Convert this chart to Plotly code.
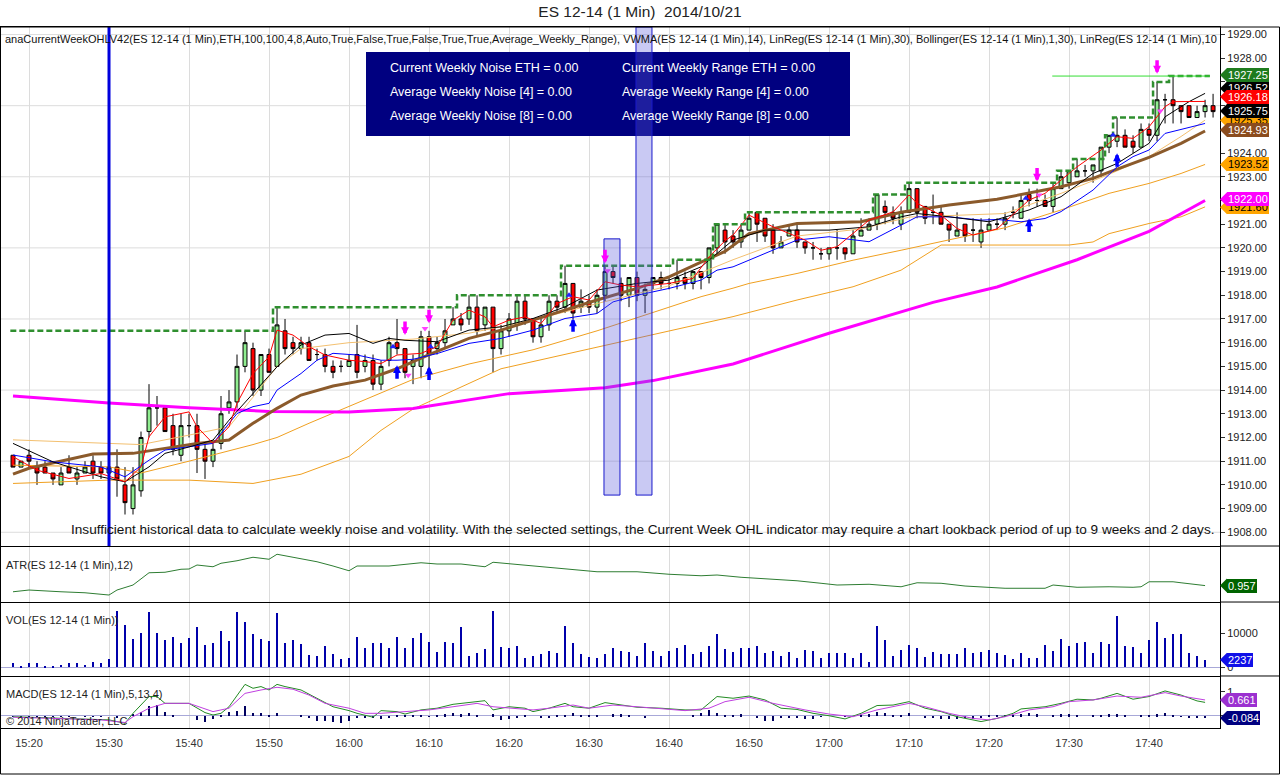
import pandas as pd
import plotly.graph_objects as go
from plotly.subplots import make_subplots

DAY = '2014-10-21 '
FONT = 'Liberation Sans, Arial, sans-serif'

# ---- 1 minute bars, 15:18 .. 17:48 ----
opens = [1911.25, 1910.75, 1911.25, 1910.75, 1910.75, 1910.5, 1910.0, 1910.75, 1910.25, 1910.5, 1911.0, 1910.75, 1910.5,
         1910.75, 1910.0, 1909.0, 1909.75, 1912.25, 1913.25, 1913.25, 1912.5, 1911.25, 1912.5,
         1912.5, 1911.5, 1911.0, 1911.75, 1913.25, 1913.5, 1915.0, 1915.75, 1914.0, 1915.5,
         1915.0, 1916.5, 1916.0, 1915.75, 1916.0, 1915.5, 1915.5, 1915.0, 1915.0, 1915.0,
         1915.5, 1915.0, 1915.25, 1914.25, 1915.25, 1916.0, 1915.75, 1915.0, 1915.0, 1916.25,
         1915.75, 1916.0, 1916.75, 1917.0, 1917.0, 1917.5, 1916.75, 1917.5, 1915.75, 1916.5,
         1916.75, 1917.75, 1917.0, 1916.25, 1916.75, 1917.75, 1917.5, 1918.5, 1917.5, 1917.75,
         1917.5, 1918.0, 1919.0, 1918.5, 1918.0, 1918.75, 1918.0, 1918.5, 1918.75, 1918.5,
         1918.5, 1918.75, 1918.5, 1919.0, 1918.75, 1920.0, 1920.75, 1920.5, 1920.25, 1920.75,
         1921.5, 1921.25, 1920.75, 1920.0, 1920.5, 1920.75, 1920.25, 1920.0, 1919.75, 1919.75,
         1920.0, 1920.0, 1919.75, 1920.5, 1920.75, 1921.0, 1921.75, 1921.5, 1921.0, 1921.5,
         1922.5, 1921.75, 1921.5, 1921.5, 1921.0, 1920.5, 1921.0, 1920.75, 1920.25, 1920.75,
         1921.0, 1921.0, 1921.5, 1921.25, 1922.25, 1922.0, 1922.0, 1921.75, 1922.5, 1922.75,
         1923.0, 1923.25, 1923.25, 1923.25, 1924.25, 1924.5, 1924.75, 1924.5, 1924.25, 1925.0,
         1924.75, 1926.25, 1926.25, 1926.0, 1926.0, 1925.5, 1925.75, 1926.0]
highs = [1911.25, 1911.0, 1911.5, 1911.0, 1911.0, 1910.5, 1910.75, 1911.25, 1910.75, 1911.0, 1911.25, 1911.0, 1910.75,
         1911.5, 1910.75, 1910.75, 1912.25, 1914.25, 1913.75, 1913.25, 1913.0, 1913.0, 1913.0,
         1913.0, 1911.75, 1911.75, 1913.75, 1914.0, 1915.5, 1916.5, 1916.0, 1915.5, 1915.75,
         1917.5, 1917.0, 1916.25, 1916.25, 1916.25, 1915.75, 1915.75, 1915.25, 1915.25, 1915.5,
         1916.75, 1915.5, 1915.5, 1915.25, 1916.25, 1917.0, 1915.75, 1915.5, 1916.5, 1916.5,
         1916.25, 1917.0, 1917.5, 1917.25, 1918.0, 1918.0, 1917.5, 1917.5, 1916.75, 1917.25,
         1918.0, 1918.0, 1917.0, 1917.0, 1918.0, 1918.0, 1919.25, 1918.5, 1918.25, 1918.0,
         1918.25, 1919.25, 1919.25, 1918.75, 1918.75, 1919.0, 1918.5, 1918.75, 1919.0, 1918.75,
         1919.5, 1919.0, 1919.0, 1919.0, 1920.0, 1921.0, 1921.0, 1920.75, 1921.0, 1921.5,
         1921.5, 1921.25, 1921.0, 1920.5, 1921.0, 1921.0, 1920.25, 1920.25, 1920.0, 1920.0,
         1920.75, 1920.0, 1920.75, 1921.25, 1921.25, 1922.25, 1922.0, 1921.75, 1921.75, 1922.75,
         1922.5, 1921.75, 1922.25, 1921.75, 1921.0, 1921.5, 1921.0, 1921.25, 1921.25, 1921.25,
         1921.25, 1921.5, 1921.75, 1922.25, 1922.5, 1922.5, 1922.25, 1922.75, 1923.25, 1923.25,
         1923.75, 1923.5, 1923.5, 1924.25, 1924.75, 1925.5, 1925.0, 1924.75, 1925.25, 1925.25,
         1927.0, 1926.5, 1927.25, 1926.0, 1926.0, 1926.0, 1926.25, 1926.5]
lows = [1910.75, 1910.75, 1910.75, 1910.0, 1910.5, 1910.0, 1910.0, 1910.5, 1910.0, 1910.5, 1910.25, 1910.25, 1910.25,
        1909.5, 1908.75, 1908.75, 1909.5, 1912.0, 1912.5, 1912.25, 1911.25, 1911.0, 1912.0,
        1910.5, 1910.25, 1910.75, 1911.5, 1913.0, 1913.25, 1914.75, 1913.75, 1913.75, 1914.75,
        1915.0, 1915.5, 1915.5, 1915.5, 1915.25, 1915.25, 1914.75, 1914.5, 1914.75, 1915.0,
        1914.5, 1914.75, 1914.0, 1914.0, 1915.0, 1915.5, 1914.5, 1914.25, 1914.5, 1914.75,
        1915.5, 1915.75, 1916.75, 1916.5, 1916.75, 1916.25, 1916.5, 1914.75, 1915.5, 1916.25,
        1916.5, 1916.75, 1916.0, 1916.0, 1916.5, 1917.25, 1917.25, 1917.0, 1917.25, 1917.25,
        1917.25, 1917.75, 1918.5, 1917.75, 1917.5, 1917.75, 1917.25, 1918.25, 1918.25, 1918.25,
        1918.25, 1918.25, 1918.25, 1918.25, 1918.5, 1919.75, 1919.75, 1920.0, 1920.0, 1920.75,
        1920.25, 1920.25, 1919.75, 1920.0, 1920.5, 1920.0, 1919.75, 1919.5, 1919.5, 1919.5,
        1919.5, 1919.5, 1919.75, 1920.5, 1920.75, 1920.75, 1921.0, 1921.0, 1920.75, 1921.5,
        1921.25, 1921.0, 1921.0, 1921.0, 1920.25, 1920.5, 1920.25, 1920.25, 1920.0, 1920.75,
        1920.75, 1920.75, 1921.25, 1921.25, 1921.75, 1921.75, 1921.75, 1921.5, 1922.5, 1922.5,
        1923.0, 1923.0, 1922.75, 1923.0, 1924.0, 1924.25, 1924.25, 1924.0, 1924.25, 1924.5,
        1924.5, 1925.25, 1925.25, 1925.25, 1925.5, 1925.5, 1925.5, 1925.5]
closes = [1910.75, 1911.0, 1911.0, 1910.5, 1910.5, 1910.25, 1910.5, 1910.5, 1910.5, 1910.75, 1910.5, 1910.5, 1910.75,
          1910.25, 1909.25, 1910.0, 1912.0, 1913.25, 1913.25, 1912.25, 1911.5, 1912.5, 1912.5,
          1911.5, 1911.0, 1911.5, 1913.0, 1913.5, 1915.0, 1916.0, 1914.0, 1915.5, 1914.75,
          1916.75, 1915.75, 1915.75, 1916.0, 1915.25, 1915.5, 1915.0, 1914.75, 1915.0, 1915.25,
          1914.75, 1915.25, 1914.25, 1915.0, 1916.0, 1915.75, 1914.75, 1915.25, 1916.25, 1915.5,
          1916.0, 1916.5, 1917.0, 1916.75, 1917.5, 1916.5, 1917.5, 1915.75, 1916.5, 1917.0,
          1917.75, 1917.0, 1916.25, 1916.75, 1917.75, 1917.5, 1918.5, 1917.25, 1917.75, 1917.5,
          1918.0, 1919.0, 1918.75, 1918.0, 1918.75, 1918.0, 1918.25, 1918.75, 1918.5, 1918.5,
          1918.75, 1918.5, 1919.0, 1918.75, 1920.0, 1921.0, 1920.25, 1920.25, 1920.75, 1921.25,
          1921.0, 1920.5, 1920.0, 1920.25, 1920.75, 1920.25, 1920.0, 1920.0, 1919.75, 1920.0,
          1920.0, 1919.75, 1920.5, 1920.75, 1921.0, 1922.25, 1921.5, 1921.25, 1921.5, 1922.5,
          1921.5, 1921.25, 1921.5, 1921.0, 1920.75, 1920.75, 1920.5, 1920.75, 1920.75, 1921.0,
          1921.0, 1921.25, 1921.5, 1922.0, 1922.0, 1922.0, 1921.75, 1922.5, 1923.0, 1923.25,
          1923.25, 1923.25, 1923.5, 1924.25, 1924.75, 1924.75, 1924.25, 1924.25, 1925.0, 1924.75,
          1926.25, 1926.25, 1926.0, 1925.75, 1925.5, 1925.75, 1926.0, 1925.75]

volumes = [1180, 400, 1180, 1180, 400, 500, 600, 1180, 1180, 700, 1500, 1180, 2450,
           16560, 12450, 8330, 10000, 16270, 10000, 8040, 8820, 7060, 8530,
           11760, 6570, 7060, 10680, 7740, 16270, 13330, 9700, 8330, 7740,
           15970, 7060, 8040, 6860, 3630, 3330, 6270, 3920, 2550, 2750,
           8920, 5690, 7060, 7060, 5690, 8920, 5690, 8630, 10100, 7450,
           4510, 7450, 7160, 11860, 3330, 4120, 5390, 16560, 5980, 5690,
           6270, 2750, 3240, 3920, 4800, 4210, 12160, 7060, 3920, 3040,
           2750, 3920, 5690, 4800, 4510, 3330, 7160, 4800, 3330, 4800,
           5690, 6570, 3920, 4510, 6270, 9810, 5390, 4510, 5690, 5690,
           6270, 4210, 4800, 3330, 4510, 2750, 5100, 4800, 2750, 4210,
           4210, 4210, 2750, 4210, 1570, 12160, 8040, 3330, 5100, 6570,
           5690, 3040, 4510, 3920, 3920, 3920, 5690, 4210, 4510, 5100,
           4210, 3630, 2450, 4210, 2750, 2750, 6570, 4800, 8330, 6270,
           7160, 7450, 4210, 7450, 6860, 15050, 6270, 5980, 4210, 8040,
           13330, 8630, 9810, 9810, 4210, 3330, 2237]

macd_diff = [-0.03, -0.03, -0.05, -0.03, -0.05, -0.03, -0.03, -0.03, 0.0, -0.03, -0.03, -0.03, 0.0,
             -0.1, 0.0, 0.1, 0.18, 0.41, 0.45, 0.18, 0.03, 0.0, 0.0,
             -0.16, -0.23, -0.14, 0.04, 0.18, 0.22, 0.41, 0.14, 0.14, 0.03,
             0.14, 0.0, 0.0, 0.03, -0.05, -0.19, -0.19, -0.23, -0.27, -0.19,
             -0.1, -0.1, -0.1, -0.14, -0.05, 0.04, 0.03, 0.03, 0.04, -0.03,
             0.03, 0.08, 0.11, 0.08, 0.11, 0.04, 0.0, 0.08, -0.16, -0.14,
             -0.05, 0.04, 0.0, -0.1, -0.05, 0.04, 0.04, 0.11, 0.03, 0.03,
             0.03, 0.0, 0.08, 0.08, 0.03, 0.0, -0.1, 0.0, 0.0, 0.0,
             0.0, 0.0, 0.03, 0.14, 0.25, 0.14, 0.04, 0.04, 0.08, 0.0,
             -0.1, -0.19, -0.19, -0.1, -0.05, -0.1, -0.14, -0.14, -0.03, 0.0,
             0.0, -0.03, 0.0, 0.04, 0.08, 0.18, 0.14, 0.04, 0.04, 0.11,
             0.0, -0.05, -0.05, -0.14, -0.14, -0.14, -0.1, -0.14, -0.05, 0.03,
             0.03, 0.03, 0.04, 0.08, 0.14, 0.08, 0.0, 0.04, 0.08, 0.08,
             0.04, 0.0, 0.04, 0.04, 0.08, 0.08, 0.03, 0.0, 0.03, 0.03,
             0.08, 0.14, 0.04, -0.03, -0.1, -0.1, -0.08]

# ---- indicator lines at turning points ----
magenta_t = ['15:18', '15:30', '15:40', '15:50', '16:00', '16:08', '16:20', '16:32', '16:38', '16:48',
             '17:00', '17:13', '17:21', '17:31', '17:40', '17:47']
magenta_v = [1913.75, 1913.45, 1913.25, 1913.10, 1913.08, 1913.22, 1913.85, 1914.10, 1914.40, 1915.10,
             1916.40, 1917.70, 1918.35, 1919.50, 1920.70, 1922.00]

brown_t = ['15:18', '15:20', '15:28', '15:33', '15:37', '15:41', '15:45', '15:48', '15:51', '15:54',
           '15:58', '16:02', '16:06', '16:10', '16:15', '16:19', '16:23', '16:27', '16:31', '16:36',
           '16:40', '16:44', '16:47', '16:50', '16:56', '17:04', '17:09', '17:15', '17:21', '17:29',
           '17:33', '17:35', '17:40', '17:44', '17:47']
brown_v = [1910.45, 1910.70, 1911.30, 1911.33, 1911.54, 1911.75, 1911.89, 1912.60, 1913.23, 1913.79,
           1914.17, 1914.42, 1914.90, 1915.50, 1916.18, 1916.53, 1916.95, 1917.37, 1917.80, 1918.29,
           1918.78, 1919.40, 1919.85, 1920.60, 1921.03, 1921.10, 1921.50, 1921.81, 1922.05, 1922.58,
           1922.93, 1923.20, 1923.82, 1924.41, 1924.93]

black_t = ['15:18', '15:23', '15:29', '15:32', '15:35', '15:37', '15:40', '15:43', '15:45', '15:48',
           '15:51', '15:54', '15:57', '16:00', '16:03', '16:05', '16:07', '16:11', '16:15', '16:19',
           '16:23', '16:27', '16:31', '16:36', '16:40', '16:44', '16:48', '16:52', '17:00', '17:05',
           '17:09', '17:11', '17:15', '17:20', '17:25', '17:29', '17:33', '17:36', '17:40', '17:42',
           '17:45', '17:47']
black_v = [1911.75, 1910.97, 1910.34, 1910.13, 1910.76, 1911.33, 1911.60, 1911.89, 1912.73, 1913.86,
           1914.98, 1915.90, 1916.32, 1916.39, 1915.97, 1916.18, 1916.10, 1916.04, 1916.53, 1916.67,
           1917.02, 1917.51, 1918.22, 1918.50, 1918.64, 1919.20, 1920.33, 1920.75, 1920.75, 1920.89,
           1921.31, 1921.45, 1921.31, 1921.10, 1921.60, 1922.16, 1923.14, 1923.56, 1924.41, 1925.53,
           1926.17, 1926.52]

red_t = ['15:18', '15:21', '15:25', '15:29', '15:32', '15:34', '15:35', '15:37', '15:40', '15:41',
         '15:43', '15:45', '15:46', '15:48', '15:50', '15:51', '15:53', '15:55', '15:57', '16:00',
         '16:02', '16:04', '16:06', '16:09', '16:11', '16:13', '16:15', '16:17', '16:18', '16:20',
         '16:22', '16:24', '16:26', '16:28', '16:30', '16:32', '16:34', '16:36', '16:40', '16:43',
         '16:45', '16:47', '16:48', '16:50', '16:53', '16:55', '16:57', '16:59', '17:01', '17:03',
         '17:05', '17:08', '17:10', '17:11', '17:14', '17:16', '17:18', '17:21', '17:25', '17:27',
         '17:29', '17:31', '17:34', '17:36', '17:38', '17:40', '17:42', '17:43', '17:47']
red_v = [1911.19, 1910.62, 1910.27, 1910.48, 1910.13, 1910.76, 1912.03, 1912.87, 1913.08, 1912.45,
         1911.75, 1912.45, 1913.44, 1914.70, 1915.40, 1916.53, 1916.32, 1915.83, 1915.48, 1915.26,
         1915.20, 1915.12, 1915.48, 1915.55, 1915.83, 1916.95, 1917.37, 1917.09, 1916.67, 1916.95,
         1917.09, 1916.81, 1917.65, 1917.94, 1917.80, 1918.57, 1918.43, 1918.36, 1918.50, 1918.71,
         1919.62, 1920.30, 1920.54, 1921.38, 1920.89, 1920.61, 1920.33, 1919.90, 1920.05, 1920.61,
         1921.17, 1921.52, 1922.23, 1921.88, 1921.38, 1920.82, 1920.54, 1920.80, 1922.02, 1922.30,
         1922.86, 1923.42, 1924.13, 1924.69, 1924.62, 1925.11, 1925.96, 1926.17, 1926.18]

blue_t = ['15:18', '15:23', '15:29', '15:32', '15:35', '15:37', '15:40', '15:43', '15:46', '15:48',
          '15:50', '15:51', '15:54', '15:56', '15:58', '16:01', '16:04', '16:06', '16:08', '16:11',
          '16:15', '16:19', '16:23', '16:27', '16:31', '16:33', '16:36', '16:40', '16:44', '16:46',
          '16:48', '16:50', '16:54', '16:56', '17:00', '17:05', '17:07', '17:11', '17:15', '17:19',
          '17:21', '17:24', '17:27', '17:29', '17:33', '17:36', '17:38', '17:40', '17:42', '17:47']
blue_v = [1911.26, 1910.97, 1910.76, 1910.34, 1911.04, 1911.47, 1911.61, 1911.75, 1913.01, 1913.30,
          1913.44, 1914.00, 1914.70, 1915.26, 1915.55, 1915.48, 1915.26, 1915.26, 1915.30, 1915.54,
          1915.97, 1916.18, 1916.53, 1917.02, 1917.23, 1917.72, 1918.00, 1918.29, 1918.64, 1919.06,
          1919.20, 1919.48, 1920.05, 1920.33, 1920.47, 1920.26, 1920.61, 1921.31, 1921.31, 1921.17,
          1921.20, 1921.10, 1921.24, 1921.53, 1922.44, 1923.42, 1923.85, 1924.13, 1924.83, 1925.25]

bb_upper_t = ['15:18', '15:30', '15:34', '15:40', '15:45', '15:48', '15:51', '15:54', '16:00', '16:08',
              '16:15', '16:23', '16:31', '16:40', '16:48', '16:56', '17:04', '17:10', '17:16', '17:22',
              '17:29', '17:35', '17:40', '17:44', '17:47']
bb_upper_v = [1911.90, 1911.75, 1911.70, 1912.10, 1912.45, 1913.70, 1915.00, 1915.75, 1916.00, 1916.15,
              1916.40, 1916.95, 1917.65, 1918.40, 1919.50, 1920.50, 1920.80, 1921.30, 1921.38, 1921.45,
              1922.30, 1923.10, 1923.85, 1924.70, 1925.39]
bb_mid_t = ['15:18', '15:30', '15:34', '15:40', '15:48', '15:51', '15:55', '16:00', '16:08', '16:15',
            '16:23', '16:31', '16:40', '16:44', '16:48', '16:50', '16:56', '17:03', '17:09', '17:15',
            '17:22', '17:29', '17:35', '17:40', '17:44', '17:47']
bb_mid_v = [1910.83, 1910.76, 1910.50, 1911.00, 1911.70, 1912.00, 1912.60, 1913.30, 1914.45, 1915.10,
            1915.70, 1916.50, 1917.50, 1917.94, 1918.30, 1918.50, 1918.92, 1919.48, 1919.90, 1920.33,
            1920.85, 1921.60, 1922.30, 1922.72, 1923.14, 1923.52]
bb_lower_t = ['15:18', '15:30', '15:40', '15:48', '15:54', '16:00', '16:04', '16:08', '16:19', '16:31',
              '16:40', '16:48', '16:56', '17:03', '17:09', '17:14', '17:22', '17:30', '17:33', '17:35',
              '17:40', '17:44', '17:47']
bb_lower_v = [1910.06, 1910.20, 1910.20, 1910.06, 1910.45, 1911.20, 1912.30, 1913.20, 1914.90, 1915.80,
              1916.50, 1917.10, 1917.80, 1918.36, 1919.06, 1920.12, 1920.12, 1920.12, 1920.25, 1920.60,
              1921.03, 1921.31, 1921.73]

# weekly-high step line (dashed) and the high marker line
step_t = ['15:17:40', '15:50:30', '16:13:30', '16:26:30', '16:40:30', '16:45:30', '16:49:30', '17:05:30',
          '17:09:30', '17:28:30', '17:30:30', '17:34:30', '17:35:30', '17:40:30', '17:42:30', '17:47:36']
step_v = [1916.5, 1917.5, 1918.0, 1919.25, 1919.5, 1921.0, 1921.5, 1922.25,
          1922.75, 1923.25, 1923.75, 1924.75, 1925.5, 1927.0, 1927.25, 1927.25]
high_line_t = ['17:27:54', '17:47:36']
high_line_v = [1927.25, 1927.25]

# signal arrows
down_arrow_t = ['16:07', '16:10', '16:32', '17:26', '17:41']
down_arrow_v = [1916.32, 1916.82, 1919.35, 1922.80, 1927.35]
up_arrow_t = ['16:06', '16:10', '16:28', '17:25', '17:36']
up_arrow_v = [1915.05, 1915.00, 1917.03, 1921.24, 1923.99]
pink_mark_t = ['16:07:24', '16:09:30', '16:32:18', '17:26:15', '17:41:24']
pink_mark_v = [1914.63, 1916.60, 1919.03, 1922.23, 1925.78]
blue_mark_t = ['16:05:30', '16:10:12', '16:27:30', '17:24:36', '17:35:30']
blue_mark_v = [1915.83, 1915.83, 1918.00, 1922.09, 1924.76]

# highlighted regions
zone_t0 = ['16:31:52', '16:35:52']
zone_t1 = ['16:33:52', '16:37:52']
zone_lo = [1909.57, 1909.57]
zone_hi = [1920.38, 1929.32]

# ATR / MACD lines
atr_t = ['15:18', '15:20', '15:24', '15:27', '15:30', '15:31', '15:33', '15:35', '15:37', '15:39',
         '15:40', '15:41', '15:43', '15:44', '15:46', '15:48', '15:50', '15:51', '15:53', '15:56',
         '15:58', '16:00', '16:01', '16:05', '16:09', '16:11', '16:14', '16:17', '16:18', '16:22',
         '16:24', '16:28', '16:31', '16:36', '16:40', '16:44', '16:46', '16:49', '16:54', '16:56',
         '16:59', '17:01', '17:05', '17:09', '17:11', '17:14', '17:17', '17:22', '17:27', '17:28',
         '17:31', '17:35', '17:38', '17:39', '17:40', '17:43', '17:44', '17:47']
atr_v = [0.71, 0.78, 0.71, 0.67, 0.58, 0.78, 0.98, 1.47, 1.49, 1.61,
         1.62, 1.78, 1.71, 1.85, 1.95, 2.09, 2.01, 2.21, 2.09, 1.91,
         1.74, 1.55, 1.74, 1.74, 1.87, 1.82, 1.82, 1.71, 1.89, 1.78,
         1.71, 1.61, 1.51, 1.51, 1.41, 1.35, 1.38, 1.29, 1.18, 1.15,
         1.05, 0.98, 1.01, 0.91, 1.07, 1.05, 0.94, 0.85, 0.85, 0.98,
         0.89, 0.91, 0.89, 0.91, 1.11, 1.11, 1.07, 0.957]

macd_t = ['15:18', '15:22', '15:27', '15:30', '15:32', '15:33', '15:35', '15:36', '15:37', '15:40',
          '15:42', '15:43', '15:44', '15:45', '15:47', '15:48', '15:49', '15:50', '15:51', '15:52',
          '15:54', '15:56', '15:58', '16:00', '16:01', '16:03', '16:04', '16:06', '16:07', '16:09',
          '16:11', '16:13', '16:15', '16:17', '16:18', '16:20', '16:22', '16:23', '16:25', '16:27',
          '16:28', '16:30', '16:32', '16:34', '16:36', '16:39', '16:42', '16:44', '16:46', '16:48',
          '16:50', '16:52', '16:54', '16:56', '16:58', '17:00', '17:02', '17:04', '17:06', '17:08',
          '17:10', '17:12', '17:14', '17:16', '17:18', '17:19', '17:21', '17:23', '17:24', '17:27',
          '17:29', '17:31', '17:33', '17:34', '17:36', '17:38', '17:40', '17:42', '17:44', '17:46', '17:47']
macd_v = [-0.03, -0.07, -0.14, -0.16, -0.30, 0.11, 0.80, 0.80, 0.52, 0.52,
          0.14, 0.04, 0.11, 0.38, 1.30, 1.14, 1.21, 1.07, 1.30, 1.21,
          1.07, 0.73, 0.38, 0.22, 0.11, -0.05, 0.22, 0.18, 0.08, 0.25,
          0.32, 0.48, 0.55, 0.63, 0.25, 0.38, 0.32, 0.18, 0.32, 0.52,
          0.38, 0.32, 0.55, 0.45, 0.36, 0.32, 0.25, 0.25, 0.80, 0.73,
          0.82, 0.66, 0.32, 0.27, 0.11, 0.01, -0.12, 0.11, 0.43, 0.45,
          0.59, 0.32, 0.18, -0.03, -0.16, -0.23, -0.10, 0.11, 0.29, 0.38,
          0.52, 0.69, 0.66, 0.73, 0.93, 0.69, 0.80, 1.03, 0.86, 0.62, 0.56]
avg_t = ['15:18', '15:29', '15:32', '15:33', '15:35', '15:37', '15:40', '15:43', '15:45', '15:47',
         '15:49', '15:51', '15:53', '15:55', '15:57', '16:00', '16:02', '16:04', '16:07', '16:10',
         '16:13', '16:16', '16:18', '16:20', '16:23', '16:25', '16:28', '16:30', '16:33', '16:36',
         '16:42', '16:45', '16:47', '16:50', '16:53', '16:57', '17:00', '17:03', '17:06', '17:10',
         '17:12', '17:15', '17:18', '17:20', '17:22', '17:25', '17:28', '17:30', '17:33', '17:36',
         '17:39', '17:42', '17:44', '17:47']
avg_v = [-0.05, -0.16, -0.27, -0.03, 0.32, 0.52, 0.52, 0.18, 0.32, 0.93,
         1.07, 1.18, 1.10, 0.86, 0.52, 0.32, 0.11, 0.11, 0.18, 0.25,
         0.38, 0.52, 0.38, 0.32, 0.25, 0.32, 0.45, 0.32, 0.45, 0.38,
         0.22, 0.32, 0.59, 0.77, 0.52, 0.25, 0.08, -0.03, 0.25, 0.52,
         0.38, 0.11, -0.10, -0.16, -0.03, 0.25, 0.38, 0.59, 0.66, 0.82,
         0.77, 0.96, 0.82, 0.66]

# right-hand value tags: text, displayed level, background, text colour
main_tags = [('1926.52', 1926.73, '#000000', 'white'), ('1926.18', 1926.38, '#ff0000', 'white'),
             ('1925.35', 1925.39, '#ffa500', 'black'), ('1925.75', 1925.78, '#000000', 'white'),
             ('1924.93', 1924.97, '#8b4c1e', 'white'), ('1923.52', 1923.52, '#ffa500', 'black'),
             ('1921.60', 1921.71, '#ffa500', 'black'), ('1922.00', 1922.05, '#ff00ff', 'white'),
             ('1927.25', 1927.29, '#1e7b1e', 'white')]
atr_tag = ('0.957', 0.957, '#006400', 'white')
vol_tag = ('2237', 2237, '#1010e8', 'white')
macd_tags = [('0.661', 0.661, '#9b30d0', 'white'), ('-0.084', -0.084, '#000080', 'white')]

grid_levels = [1908, 1911, 1914, 1917, 1920, 1923, 1926, 1929]

TOP_TEXT = ('anaCurrentWeekOHLV42(ES 12-14 (1 Min),ETH,100,100,4,8,Auto,True,False,True,False,True,True,'
            'Average_Weekly_Range), VWMA(ES 12-14 (1 Min),14), LinReg(ES 12-14 (1 Min),30), '
            'Bollinger(ES 12-14 (1 Min),1,30), LinReg(ES 12-14 (1 Min),10')
INFO_LEFT = ['Current Weekly Noise ETH = 0.00', 'Average Weekly Noise [4] = 0.00', 'Average Weekly Noise [8] = 0.00']
INFO_RIGHT = ['Current Weekly Range ETH = 0.00', 'Average Weekly Range [4] = 0.00', 'Average Weekly Range [8] = 0.00']
NOTE = ('Insufficient historical data to calculate weekly noise and volatility. With the selected settings, '
        'the Current Week OHL indicator may require a chart lookback period of up to 9 weeks and 2 days.')


def ts(hm):
    return [pd.Timestamp(DAY + s) for s in hm]


bar_times = pd.date_range(DAY + '15:18', periods=len(opens), freq='min')

# layout geometry (pixels)
W, H = 1280, 775
PW = 1219          # plot width
Y_MAIN = [1907.42, 1929.32]
Y_ATR = [0.30, 2.50]
Y_VOL = [-2560, 18900]
Y_MACD = [-0.494, 1.605]
dom_main = [0.2596, 1.0]
dom_atr = [0.1797, 0.2582]
dom_vol = [0.0742, 0.1783]
dom_macd = [0.0, 0.0728]
px_unit = {'y': 21.9 / 519, 'y2': 2.2 / 55, 'y3': 21460 / 73, 'y4': 2.099 / 51}

fig = make_subplots(rows=4, cols=1, shared_xaxes=True, vertical_spacing=0)

# --- price panel ---
fig.add_trace(go.Candlestick(
    x=bar_times, open=opens, high=highs, low=lows, close=closes,
    increasing=dict(fillcolor='#90ee90', line=dict(color='black', width=1)),
    decreasing=dict(fillcolor='#ff0000', line=dict(color='black', width=1)),
    whiskerwidth=0, showlegend=False), row=1, col=1)

line_specs = [
    (bb_lower_t, bb_lower_v, '#f0a020', 1),
    (bb_mid_t, bb_mid_v, '#f0a020', 1),
    (bb_upper_t, bb_upper_v, '#f3c070', 1),
    (magenta_t, magenta_v, '#ff00ff', 3),
    (brown_t, brown_v, '#8b5a2b', 3),
    (blue_t, blue_v, '#0000ff', 1),
    (black_t, black_v, '#000000', 1),
    (red_t, red_v, '#ff0000', 1),
]
for t, v, c, w in line_specs:
    fig.add_trace(go.Scatter(x=ts(t), y=v, mode='lines', line=dict(color=c, width=w),
                             showlegend=False), row=1, col=1)

fig.add_trace(go.Scatter(x=ts(step_t), y=step_v, mode='lines', line_shape='hv',
                         line=dict(color='#2f8f2f', width=2.5, dash='6px,3px'), showlegend=False), row=1, col=1)
fig.add_trace(go.Scatter(x=ts(high_line_t), y=high_line_v, mode='lines',
                         line=dict(color='#33dd33', width=1), showlegend=False), row=1, col=1)
fig.add_trace(go.Scatter(x=ts(pink_mark_t), y=pink_mark_v, mode='markers',
                         marker=dict(symbol='triangle-down', size=6, color='#ff44ff'), showlegend=False), row=1, col=1)
fig.add_trace(go.Scatter(x=ts(blue_mark_t), y=blue_mark_v, mode='markers',
                         marker=dict(symbol='triangle-up', size=6, color='#2222ff'), showlegend=False), row=1, col=1)

# --- ATR ---
fig.add_trace(go.Scatter(x=ts(atr_t), y=atr_v, mode='lines', line=dict(color='#2e7d32', width=1),
                         showlegend=False), row=2, col=1)
# --- volume ---
fig.add_trace(go.Bar(x=bar_times[:len(volumes)], y=volumes, marker=dict(color='#0000aa', line=dict(width=0)),
                     width=20000, showlegend=False), row=3, col=1)
# --- MACD ---
fig.add_trace(go.Bar(x=bar_times[:len(macd_diff)], y=macd_diff, marker=dict(color='#000060', line=dict(width=0)),
                     width=20000, showlegend=False), row=4, col=1)
fig.add_trace(go.Scatter(x=ts(macd_t), y=macd_v, mode='lines', line=dict(color='#228b22', width=1),
                         showlegend=False), row=4, col=1)
fig.add_trace(go.Scatter(x=ts(avg_t), y=avg_v, mode='lines', line=dict(color='#c040e0', width=1),
                         showlegend=False), row=4, col=1)

# --- axes ---
x_range = [DAY + '15:16:30', DAY + '17:48:52']
fig.update_xaxes(type='date', range=x_range, dtick=600000, tick0=DAY + '15:20', tickformat='%H:%M',
                 showgrid=True, gridcolor='#dcdcdc', gridwidth=1, zeroline=False,
                 showline=True, linecolor='black', linewidth=1, mirror=True,
                 rangeslider=dict(visible=False), ticks='outside', ticklen=5, tickcolor='rgba(0,0,0,0)',
                 tickfont=dict(size=11, color='#333'))
axis_common = dict(side='right', showline=True, linecolor='black', linewidth=1, mirror=True,
                   showgrid=False, ticks='outside', ticklen=4, tickcolor='#333',
                   tickfont=dict(size=11, color='#222'))
fig.update_layout(
    yaxis=dict(domain=dom_main, range=Y_MAIN, dtick=1, tickformat='.2f', zeroline=False, **axis_common),
    yaxis2=dict(domain=dom_atr, range=Y_ATR, showticklabels=False, zeroline=False,
                **{k: v for k, v in axis_common.items() if k not in ('ticks',)}),
    yaxis3=dict(domain=dom_vol, range=Y_VOL, tickvals=[0, 10000], tickformat='d', zeroline=True,
                zerolinecolor='#a8a8d8', zerolinewidth=1, **axis_common),
    yaxis4=dict(domain=dom_macd, range=Y_MACD, tickvals=[0, 1], zeroline=True, zerolinecolor='#a8a8d8',
                zerolinewidth=1, **axis_common),
)

# --- shapes ---
for lv in grid_levels:
    fig.add_shape(type='line', xref='x domain', x0=0, x1=1, yref='y', y0=lv, y1=lv,
                  line=dict(color='#dcdcdc', width=1), layer='below')

fig.add_shape(type='line', xref='x', x0=DAY + '15:30', x1=DAY + '15:30', yref='y domain', y0=0, y1=1,
              line=dict(color='#0000dd', width=3), layer='above')

# info panel
fig.add_shape(type='rect', xref='paper', yref='paper', x0=(366 - 1) / PW, x1=(850 - 1) / PW,
              y0=(728 - 136) / 701, y1=(728 - 52) / 701, fillcolor='#000080', line=dict(width=0), layer='above')

for a, b, lo, hi in zip(zone_t0, zone_t1, zone_lo, zone_hi):
    fig.add_shape(type='rect', xref='x', yref='y', x0=DAY + a, x1=DAY + b, y0=lo, y1=hi,
                  fillcolor='rgba(90,90,220,0.33)', line=dict(color='#1a1acc', width=1), layer='above')

# separators running out into the price-scale column
for yv in (dom_main[0], dom_atr[0], dom_vol[0]):
    fig.add_shape(type='line', xref='paper', yref='paper', x0=1, x1=1279 / PW, y0=yv, y1=yv,
                  line=dict(color='black', width=1), layer='above')
fig.add_shape(type='rect', xref='paper', yref='paper', x0=-0.5 / PW, x1=1278.5 / PW,
              y0=(728 - 774) / 701, y1=1, line=dict(color='black', width=1), layer='above')


def add_tag(text, yv, bg, fg, yref):
    h = 7 * px_unit[yref]
    fig.add_shape(type='path', xref='paper', yref=yref,
                  path=f'M 1,{yv} L {1 + 7 / PW},{yv + h} L {1 + 7 / PW},{yv - h} Z',
                  fillcolor=bg, line=dict(width=0), layer='above')
    fig.add_annotation(x=1, xref='paper', xanchor='left', xshift=7, y=yv, yref=yref, yanchor='middle',
                       text=text, showarrow=False, bgcolor=bg, bordercolor=bg, borderwidth=1, borderpad=0,
                       font=dict(color=fg, size=11, family=FONT))


# arrows
for t, v in zip(down_arrow_t, down_arrow_v):
    fig.add_annotation(x=DAY + t, y=v, xref='x', yref='y', text='', showarrow=True, ax=0, ay=-15,
                       arrowhead=2, arrowsize=0.45, arrowwidth=3.5, arrowcolor='#ff00ff', standoff=0)
for t, v in zip(up_arrow_t, up_arrow_v):
    fig.add_annotation(x=DAY + t, y=v, xref='x', yref='y', text='', showarrow=True, ax=0, ay=15,
                       arrowhead=2, arrowsize=0.45, arrowwidth=3.5, arrowcolor='#0000ff', standoff=0)

for text, yv, bg, fg in main_tags:
    add_tag(text, yv, bg, fg, 'y')
add_tag(*atr_tag, 'y2')
add_tag(*vol_tag, 'y3')
for tg in macd_tags:
    add_tag(*tg, 'y4')

# --- texts ---
fig.add_annotation(x=2 / PW, xref='paper', xanchor='left', y=(728 - 39) / 701, yref='paper', yanchor='middle',
                   text=TOP_TEXT, showarrow=False, font=dict(size=11, color='#111', family=FONT))
for i, (lt, rt) in enumerate(zip(INFO_LEFT, INFO_RIGHT)):
    yy = (728 - (68 + 24 * i)) / 701
    fig.add_annotation(x=(388 - 1) / PW, xref='paper', xanchor='left', y=yy, yref='paper', yanchor='middle',
                       text=lt, showarrow=False, font=dict(size=12.5, color='white', family=FONT))
    fig.add_annotation(x=(620 - 1) / PW, xref='paper', xanchor='left', y=yy, yref='paper', yanchor='middle',
                       text=rt, showarrow=False, font=dict(size=12.5, color='white', family=FONT))
fig.add_annotation(x=(1216 - 1) / PW, xref='paper', xanchor='right', y=(728 - 529) / 701, yref='paper',
                   yanchor='middle', text=NOTE, showarrow=False, font=dict(size=13.6, color='#111', family=FONT))

panel_labels = [('ATR(ES 12-14 (1 Min),12)', 565), ('VOL(ES 12-14 (1 Min))', 620),
                ('MACD(ES 12-14 (1 Min),5,13,4)', 694), ('© 2014 NinjaTrader, LLC', 721)]
for txt, py in panel_labels:
    fig.add_annotation(x=3 / PW, xref='paper', xanchor='left', y=(728 - py) / 701, yref='paper',
                       yanchor='middle', text=txt, showarrow=False, font=dict(size=11, color='#222', family=FONT))

fig.update_layout(
    width=W, height=H,
    margin=dict(l=1, r=60, t=27, b=47),
    paper_bgcolor='white', plot_bgcolor='white',
    showlegend=False, hovermode=False, bargap=0,
    font=dict(family=FONT, size=11, color='#222'),
    title=dict(text='ES 12-14 (1 Min)\u00a0 2014/10/21', x=0.5, xanchor='center', xref='container',
               y=1 - 12 / H, yanchor='middle', font=dict(size=15.5, color='#222', family=FONT)),
)

# the page's default body margin would push the figure 8px in from the corner
fig.write_html('out.html', config={'displayModeBar': False},
               post_script="document.body.style.margin='0';document.body.style.overflow='hidden';")
